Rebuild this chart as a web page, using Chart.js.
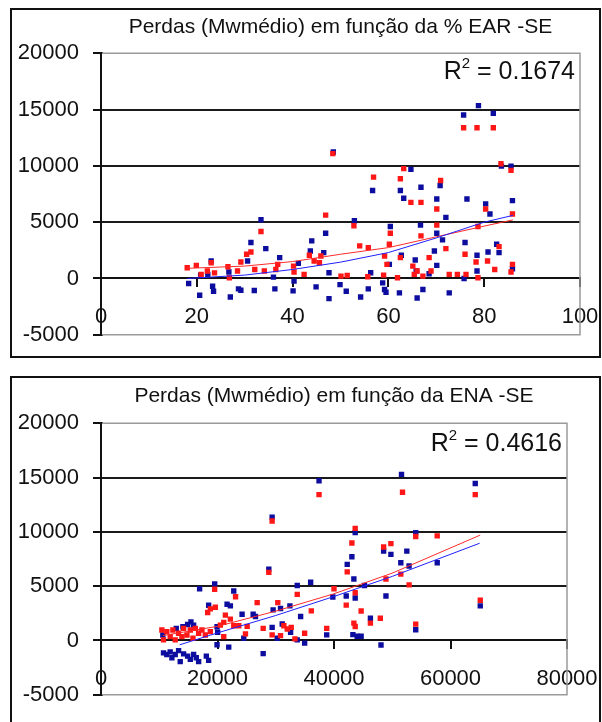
<!DOCTYPE html>
<html>
<head>
<meta charset="utf-8">
<script src="https://cdn.jsdelivr.net/npm/chart.js@4/dist/chart.umd.min.js"></script>
<style>
  html, body { margin: 0; padding: 0; background: #fff; width: 602px; height: 722px; overflow: hidden; }
  .box { position: absolute; box-sizing: border-box; border: 2px solid #111; background: #fff; }
  .wrap { position: absolute; left: 0; width: 602px; }
  canvas { display: block; }
</style>
</head>
<body>
<div class="box" style="left:10px;top:8px;width:591px;height:350px;"></div>
<div class="box" style="left:10px;top:376px;width:591px;height:370px;"></div>
<div class="wrap" style="top:0;height:362px;"><canvas id="c1" width="602" height="362"></canvas></div>
<div class="wrap" style="top:362px;height:360px;"><canvas id="c2" width="602" height="360"></canvas></div>
<script>
// ---------- Chart 1: % EAR - SE ----------
const earTitle = 'Perdas (Mwmédio) em função da % EAR -SE';
const earR2 = '0.1674';
const earXTicks = [0, 20, 40, 60, 80, 100];
const yTicks = [-5000, 0, 5000, 10000, 15000, 20000];
const earBlueX = [18.3,20.6,20.8,23.0,23.3,23.5,22.3,27.0,26.7,28.7,29.2,30.6,31.3,32.0,33.4,34.4,36.3,36.0,37.3,40.1,40.3,41.2,44.0,43.7,44.9,46.5,46.9,47.6,47.6,48.5,49.9,51.2,52.9,54.2,55.8,56.3,56.7,58.8,59.2,59.5,60.4,60.2,62.3,62.7,62.5,63.2,64.7,65.6,65.8,66.0,67.2,66.7,66.8,68.5,69.6,70.1,70.1,70.1,70.8,72.0,71.3,72.7,76.0,76.4,75.8,75.7,78.5,78.5,78.8,80.3,80.8,81.2,81.9,82.6,83.1,83.6,85.6,85.9,85.9];
const earBlueY = [-450,-1490,300,1550,-690,-1130,360,-1640,570,-920,-1040,1550,3190,-1070,5210,2650,-920,120,1850,-1100,-240,1340,3340,2440,-750,2290,4020,-1790,510,11230,-540,-1130,5130,-1640,-920,510,7810,-390,-980,-1220,4620,1250,-1280,2060,7810,7120,9690,1640,660,-1730,-980,4740,8100,420,2440,7060,1160,4020,8250,5420,3430,-1280,3190,7060,0,14510,660,2060,15350,6620,2350,5720,14660,3040,2290,9980,9980,6910,860];
const earRedX = [18.0,19.9,20.9,22.2,23.0,23.7,26.5,26.8,28.5,29.2,30.4,31.3,32.1,33.4,34.1,36.5,36.9,40.2,40.3,42.4,43.5,44.5,45.6,46.9,45.9,48.4,50.1,51.4,52.8,54.0,55.8,55.7,56.9,59.0,59.2,60.2,60.4,59.7,61.9,62.5,62.5,63.2,64.7,65.4,65.1,66.0,66.8,66.8,67.2,68.5,68.9,70.1,70.1,70.9,72.0,72.7,74.4,75.7,76.0,76.2,78.5,78.3,78.7,78.7,80.7,80.3,81.9,82.2,83.1,83.5,85.6,85.9,85.9,85.6];
const earRedY = [950,1160,360,660,1400,500,1040,60,660,1460,2150,2350,800,4170,660,800,1250,1100,570,360,2060,1550,1400,5630,2000,11090,210,270,4680,2890,2740,150,9000,300,2000,3040,4020,1250,60,1850,8850,9750,6760,360,1100,660,3780,6760,210,1850,660,6170,4740,8700,2650,360,360,13380,2150,360,13380,1460,4620,60,1550,6170,13380,800,2830,10190,9600,5720,1250,570];
const earTrendX = [18, 30, 40, 50, 60, 70, 80, 86];
const earBlueTrendY = [0, 300, 800, 1450, 2300, 3600, 5000, 5600];
const earRedTrendY = [900, 1100, 1500, 2150, 2740, 3700, 4650, 5200];

// ---------- Chart 2: ENA - SE ----------
const enaTitle = 'Perdas (Mwmédio) em função da ENA -SE';
const enaR2 = '0.4616';
const enaXTicks = [0, 20000, 40000, 60000, 80000];
const enaBlueX = [10620,10730,11300,11880,12170,12740,13320,13600,14180,14870,15330,15900,16360,16760,18080,18480,12920,14060,14870,15440,15900,16930,18480,19520,19920,21640,22210,22790,19920,20030,21930,24220,24510,26120,26520,27840,28810,29380,29380,29550,30250,30820,31110,32430,33690,32550,33690,34270,34960,35990,37430,38750,39800,42100,43070,42270,43410,43640,43640,43240,43980,44660,45230,46250,48070,48520,48920,49770,51470,51590,52500,52890,54030,54030,57720,64250,65110];
const enaBlueY = [510,-1140,-1290,-1050,-1590,-1290,-930,-1950,-1230,-1440,-1740,-1290,-1590,-1950,-1440,-1830,1110,1260,1470,1710,1410,4760,3240,5210,1260,3330,3180,4550,-390,760,-610,2420,210,2420,2210,-1210,6570,11360,1210,2820,210,2940,1520,3180,5060,760,60,2210,-240,5360,14700,520,4000,4090,7710,7010,5660,9930,3910,540,390,390,5060,2050,-420,8220,4090,7920,7160,15290,8220,6860,990,9930,7160,14450,3190];
const enaRedX = [10450,10730,11300,11880,12340,12740,13320,13890,14180,14750,15330,15790,16190,16760,17330,17910,18770,19510,18770,19630,20490,21070,23100,21070,18310,21350,22210,22790,23650,24800,25090,26810,27840,28810,29380,29380,30350,30820,31390,31970,32660,33290,33690,34960,36100,37430,38750,40000,42100,42270,43070,43640,43410,43640,43640,44660,46250,47950,48520,49770,48920,51470,51760,52890,54030,54030,57720,64250,65110];
const enaRedY = [960,60,810,360,960,60,660,360,1110,510,960,210,1110,660,960,510,810,4710,2910,3060,1410,360,4030,1670,2580,2330,1970,1360,1360,610,1300,3480,1120,6270,11000,520,3480,450,1360,1060,1210,150,4240,670,2730,13420,1120,4760,3250,6320,8970,10320,1600,1290,4390,2710,1600,2050,8610,8910,5660,6110,13640,5120,9570,1510,9630,13420,3700];
const enaRedTrendX = [10600, 20000, 30000, 40000, 50000, 65100];
const enaRedTrendY = [450, 1300, 2700, 4300, 6200, 9700];
const enaBlueTrendX = [13500, 20000, 30000, 40000, 50000, 65000];
const enaBlueTrendY = [-400, 700, 2300, 4050, 5900, 8950];

// ---------- styling / helpers ----------
const BLUE = '#0c0c9e', RED = '#ff1616', TBLUE = '#1f1fff', TRED = '#ff2a2a';
const FONT = "'Liberation Sans', Arial, sans-serif";
function zip(xs, ys) { return xs.map((x, i) => ({ x: x, y: ys[i] })); }
Chart.defaults.font.family = FONT;
Chart.defaults.color = '#111';

// light grey plot-area frame (top, right, bottom) like the spreadsheet chart
const frameLine = {
  id: 'frameLine',
  beforeDatasetsDraw(chart) {
    const { ctx, chartArea: a } = chart;
    ctx.save();
    ctx.lineCap = 'butt';
    ctx.strokeStyle = '#ffffff'; ctx.lineWidth = 4;
    ctx.beginPath();
    ctx.moveTo(a.left + 2, a.top); ctx.lineTo(a.right + 2, a.top);
    ctx.moveTo(a.left + 2, a.bottom); ctx.lineTo(a.right + 2, a.bottom);
    ctx.stroke();
    ctx.strokeStyle = '#9a9a9a'; ctx.lineWidth = 1.5;
    ctx.beginPath();
    ctx.moveTo(a.left + 1, a.top); ctx.lineTo(a.right, a.top); ctx.lineTo(a.right, a.bottom); ctx.lineTo(a.left + 1, a.bottom);
    ctx.stroke();
    ctx.restore();
  }
};
const r2Text = {
  id: 'r2Text',
  afterDraw(chart, args, opts) {
    const { ctx, chartArea: a } = chart;
    ctx.save();
    ctx.fillStyle = '#111'; ctx.textBaseline = 'middle';
    const big = '25px ' + FONT, small = '15px ' + FONT;
    const tail = ' = ' + opts.value;
    ctx.font = big; const wTail = ctx.measureText(tail).width; const wR = ctx.measureText('R').width;
    ctx.font = small; const w2 = ctx.measureText('2').width;
    const right = a.right - 5, yc = a.top + opts.dy;
    ctx.font = big; ctx.fillText(tail, right - wTail, yc); ctx.fillText('R', right - wTail - w2 - wR, yc);
    ctx.font = small; ctx.fillText('2', right - wTail - w2, yc - 8);
    ctx.restore();
  }
};

function makeChart(id, cfg) {
  return new Chart(document.getElementById(id), {
    type: 'scatter',
    data: { datasets: [
      { data: zip(cfg.blueTX, cfg.blueTY), showLine: true, borderColor: TBLUE, borderWidth: 1, pointRadius: 0, order: 0 },
      { data: zip(cfg.redTX, cfg.redTY), showLine: true, borderColor: TRED, borderWidth: 1, pointRadius: 0, order: 0 },
      { data: zip(cfg.redX, cfg.redY), pointStyle: 'rect', pointRadius: 3.8, backgroundColor: RED, borderWidth: 0, order: 1 },
      { data: zip(cfg.blueX, cfg.blueY), pointStyle: 'rect', pointRadius: 3.8, backgroundColor: BLUE, borderWidth: 0, order: 2 }
    ] },
    options: {
      responsive: false, animation: false, events: [],
      layout: { padding: { left: 11, right: cfg.padRight, top: 0, bottom: cfg.padBottom } },
      plugins: {
        legend: { display: false }, tooltip: { enabled: false },
        title: { display: true, text: cfg.title, fullSize: false, color: '#111', font: { size: 21, weight: 'normal', lineHeight: 1.2 }, padding: { top: cfg.titleTop, bottom: cfg.titleBottom } },
        r2Text: { value: cfg.r2, dy: cfg.r2dy }
      },
      scales: {
        x: {
          type: 'linear', position: { y: 0 },
          min: cfg.xTicks[0], max: cfg.xTicks[cfg.xTicks.length - 1],
          afterBuildTicks(s) { s.ticks = cfg.xTicks.map(v => ({ value: v })); },
          afterFit(s) { s.paddingLeft = 0; s.paddingRight = 0; },
          grid: { drawOnChartArea: false, tickColor: '#111', lineWidth: 2 },
          border: { display: true, color: '#111', width: 2 },
          ticks: { autoSkip: false, maxRotation: 0, padding: 17, font: { size: 22 }, color: '#111', callback: v => String(v) }
        },
        y: {
          type: 'linear', min: yTicks[0], max: yTicks[yTicks.length - 1],
          afterBuildTicks(s) { s.ticks = yTicks.map(v => ({ value: v })); },
          afterFit(s) { s.width = 90; },
          grid: { color: '#1a1a1a', lineWidth: 2, tickColor: '#111' },
          border: { display: true, color: '#111', width: 2 },
          ticks: { padding: 14, font: { size: 22 }, color: '#111', callback: v => String(v) }
        }
      }
    },
    plugins: [frameLine, r2Text]
  });
}

makeChart('c1', { title: earTitle, r2: earR2, r2dy: 19, xTicks: earXTicks,
  blueX: earBlueX, blueY: earBlueY, redX: earRedX, redY: earRedY,
  blueTX: earTrendX, blueTY: earBlueTrendY, redTX: earTrendX, redTY: earRedTrendY,
  padRight: 22, padBottom: 25, titleTop: 15, titleBottom: 13 });
makeChart('c2', { title: enaTitle, r2: enaR2, r2dy: 21, xTicks: enaXTicks,
  blueX: enaBlueX, blueY: enaBlueY, redX: enaRedX, redY: enaRedY,
  blueTX: enaBlueTrendX, blueTY: enaBlueTrendY, redTX: enaRedTrendX, redTY: enaRedTrendY,
  padRight: 35, padBottom: 21, titleTop: 22, titleBottom: 14 });
</script>
</body>
</html>
